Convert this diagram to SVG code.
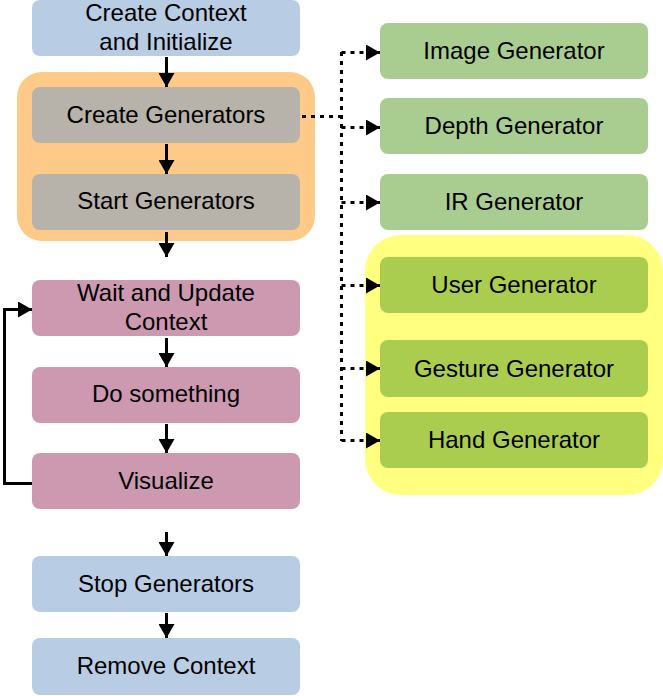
<svg xmlns="http://www.w3.org/2000/svg" width="663" height="696" viewBox="0 0 663 696">
  <style>
    .lbl { font-family: "Liberation Sans", Arial, sans-serif; font-size: 24px; fill: #000; text-anchor: middle; }
    .blue { fill: #b8cce4; }
    .gray { fill: #b7b2aa; }
    .pink { fill: #cc99b1; }
    .green1 { fill: #a9cd90; }
    .green2 { fill: #aacd50; }
    .flow { stroke: #000; stroke-width: 3; fill: none; }
    .dot { stroke: #000; stroke-width: 3; fill: none; stroke-dasharray: 4 5; }
  </style>
  <defs>
    <marker id="arr" markerUnits="userSpaceOnUse" markerWidth="14" markerHeight="16" refX="14" refY="8" orient="auto">
      <path d="M0,0 L14,8 L0,16 Z" fill="#000"/>
    </marker>
  </defs>

  <!-- containers -->
  <g id="generators-group">
    <rect x="17" y="72" width="298" height="169" rx="25" fill="#ffc987"/>
  </g>
  <g id="user-generators-group">
    <rect x="365" y="235" width="298" height="260" rx="36" fill="#ffff80"/>
  </g>

  <!-- main flow -->
  <g id="create-context">
    <rect class="blue" x="32" y="0" width="268" height="56" rx="8"/>
    <text class="lbl" x="166" y="21">Create Context</text>
    <text class="lbl" x="166" y="50">and Initialize</text>
  </g>
  <g id="create-generators">
    <rect class="gray" x="32" y="87" width="268" height="56" rx="8"/>
    <text class="lbl" x="166" y="123">Create Generators</text>
  </g>
  <g id="start-generators">
    <rect class="gray" x="32" y="174" width="268" height="56" rx="8"/>
    <text class="lbl" x="166" y="209">Start Generators</text>
  </g>
  <g id="wait-update">
    <rect class="pink" x="32" y="280" width="268" height="56" rx="8"/>
    <text class="lbl" x="166" y="301">Wait and Update</text>
    <text class="lbl" x="166" y="330">Context</text>
  </g>
  <g id="do-something">
    <rect class="pink" x="32" y="367" width="268" height="56" rx="8"/>
    <text class="lbl" x="166" y="402">Do something</text>
  </g>
  <g id="visualize">
    <rect class="pink" x="32" y="453" width="268" height="56" rx="8"/>
    <text class="lbl" x="166" y="489">Visualize</text>
  </g>
  <g id="stop-generators">
    <rect class="blue" x="32" y="556" width="268" height="56" rx="8"/>
    <text class="lbl" x="166" y="592">Stop Generators</text>
  </g>
  <g id="remove-context">
    <rect class="blue" x="32" y="638" width="268" height="57" rx="8"/>
    <text class="lbl" x="166" y="674">Remove Context</text>
  </g>

  <!-- generator nodes -->
  <g id="image-generator">
    <rect class="green1" x="380" y="23" width="268" height="56" rx="8"/>
    <text class="lbl" x="514" y="59">Image Generator</text>
  </g>
  <g id="depth-generator">
    <rect class="green1" x="380" y="98" width="268" height="56" rx="8"/>
    <text class="lbl" x="514" y="134">Depth Generator</text>
  </g>
  <g id="ir-generator">
    <rect class="green1" x="380" y="174" width="268" height="56" rx="8"/>
    <text class="lbl" x="514" y="210">IR Generator</text>
  </g>
  <g id="user-generator">
    <rect class="green2" x="380" y="257" width="268" height="56" rx="8"/>
    <text class="lbl" x="514" y="293">User Generator</text>
  </g>
  <g id="gesture-generator">
    <rect class="green2" x="380" y="340" width="268" height="57" rx="8"/>
    <text class="lbl" x="514" y="377">Gesture Generator</text>
  </g>
  <g id="hand-generator">
    <rect class="green2" x="380" y="412" width="268" height="56" rx="8"/>
    <text class="lbl" x="514" y="448">Hand Generator</text>
  </g>

  <!-- connectors -->
  <g id="connectors">
    <line class="flow" x1="166.5" y1="57" x2="166.5" y2="87" marker-end="url(#arr)"/>
    <line class="flow" x1="166.5" y1="144" x2="166.5" y2="174" marker-end="url(#arr)"/>
    <line class="flow" x1="166.5" y1="232" x2="166.5" y2="257" marker-end="url(#arr)"/>
    <line class="flow" x1="166.5" y1="338" x2="166.5" y2="367" marker-end="url(#arr)"/>
    <line class="flow" x1="166.5" y1="424" x2="166.5" y2="453" marker-end="url(#arr)"/>
    <line class="flow" x1="166.5" y1="532" x2="166.5" y2="556" marker-end="url(#arr)"/>
    <line class="flow" x1="166.5" y1="613" x2="166.5" y2="638" marker-end="url(#arr)"/>
    <polyline class="flow" points="32,483.5 4.5,483.5 4.5,309.5 32,309.5" marker-end="url(#arr)"/>

    <line class="dot" x1="302" y1="116.5" x2="341.5" y2="116.5"/>
    <line class="dot" x1="341.5" y1="52" x2="341.5" y2="441"/>
    <line class="dot" x1="341.5" y1="52.5" x2="380" y2="52.5" marker-end="url(#arr)"/>
    <line class="dot" x1="341.5" y1="127.5" x2="380" y2="127.5" marker-end="url(#arr)"/>
    <line class="dot" x1="341.5" y1="202.5" x2="380" y2="202.5" marker-end="url(#arr)"/>
    <line class="dot" x1="341.5" y1="285.5" x2="380" y2="285.5" marker-end="url(#arr)"/>
    <line class="dot" x1="341.5" y1="368.5" x2="380" y2="368.5" marker-end="url(#arr)"/>
    <line class="dot" x1="341.5" y1="440.5" x2="380" y2="440.5" marker-end="url(#arr)"/>
  </g>
</svg>
